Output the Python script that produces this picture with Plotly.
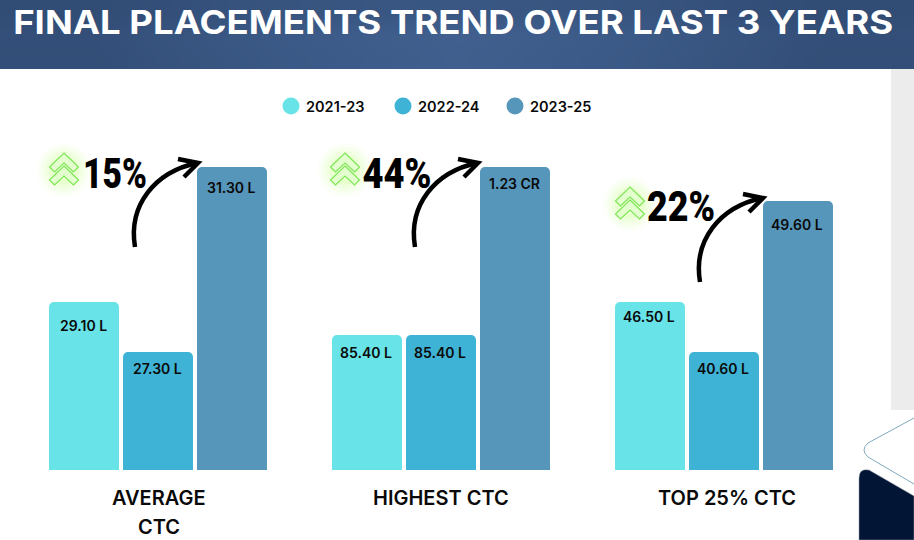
import plotly.graph_objects as go

# ---- data ----
periods = ["2021-23", "2022-24", "2023-25"]
period_colors = ["#68E3E8", "#3FB3D5", "#5696BA"]
group_names = [["AVERAGE", "CTC"], ["HIGHEST CTC"], ["TOP 25% CTC"]]
# bar lengths as drawn (the source graphic is not to a common scale)
average_ctc = [168, 118, 303]
highest_ctc = [135, 135, 303]
top25_ctc = [168, 118, 269]
average_labels = ["29.10 L", "27.30 L", "31.30 L"]
highest_labels = ["85.40 L", "85.40 L", "1.23 CR"]
top25_labels = ["46.50 L", "40.60 L", "49.60 L"]
growth = ["15%", "44%", "22%"]
header_title = "FINAL PLACEMENTS TREND OVER LAST 3 YEARS"

W, H = 914, 540
FONT = "Inter"
fig = go.Figure()

# overlay axis in picture pixels for the decoration
fig.update_layout(
    xaxis4=dict(domain=[0, 1], range=[0, W], visible=False, fixedrange=True, anchor="y4"),
    yaxis4=dict(domain=[0, 1], range=[H, 0], visible=False, fixedrange=True, anchor="x4"),
)

# header gradient
fig.add_trace(go.Heatmap(
    x=[91.4, 274.2, 457, 639.8, 822.6], y=[11.5, 34.5, 57.5],
    z=[[0.1, 0.45, 0.6, 0.45, 0.1], [0.25, 0.7, 1.0, 0.7, 0.25], [0.2, 0.65, 0.95, 0.65, 0.2]],
    zsmooth="best", zmin=0, zmax=1, showscale=False, hoverinfo="skip",
    colorscale=[[0, "#2F4A72"], [1, "#41608F"]], xaxis="x4", yaxis="y4", showlegend=False,
))

shapes = []
def path(d, **kw):
    s = dict(type="path", path=d, xref="x4", yref="y4", layer="above")
    s.update(kw)
    shapes.append(s)

# right-hand decoration
shapes.append(dict(type="rect", xref="x4", yref="y4", x0=891, x1=W, y0=69, y1=410, fillcolor="#ECECEC", line_width=0, layer="below"))
path("M914,418 L868,443 Q860,450 868,457 L914,484", line=dict(color="#7FA9BE", width=1))
path("M859,478 Q859,468 869,470 L914,496 L914,540 L859,540 Z", fillcolor="#021535", line=dict(color="#9A9FA8", width=0.5))

badges = [(64, 170, 115, 173), (345, 170, 396.5, 173), (630, 204, 681, 206)]
arrows = [(0, 0), (280, 0), (565, 35)]

for (cx, cy, tx, ty), pct in zip(badges, growth):
    for r, op in [(27, 0.05), (23, 0.07), (19, 0.10), (15, 0.14)]:
        shapes.append(dict(type="circle", xref="x4", yref="y4", x0=cx - r, x1=cx + r, y0=cy - r, y1=cy + r,
                           fillcolor="#B6FF6A", opacity=op, line_width=0, layer="below"))
    for dy in (-17, -4):
        y0 = cy + dy
        path(f"M{cx},{y0} L{cx+14.5},{y0+14} L{cx+9.5},{y0+19} L{cx},{y0+10} L{cx-9.5},{y0+19} L{cx-14.5},{y0+14} Z",
             fillcolor="rgba(225,255,205,0.75)", line=dict(color="#7FE658", width=1.2))
    fig.add_annotation(x=tx, y=ty, xref="x4", yref="y4", text=pct, showarrow=False, xanchor="center",
                       yanchor="middle", font=dict(family="Roboto", size=42, color="#000000", weight=900))

for dx, dy in arrows:
    path(f"M{135+dx},{247+dy} C{128+dx},{205+dy} {155+dx},{172+dy} {197+dx},{163+dy}",
         line=dict(color="#000000", width=4.5))
    path(f"M{178+dx},{159+dy} L{198+dx},{163+dy} L{184+dx},{177+dy}", line=dict(color="#000000", width=4.5))

# bars: three small panels, each with its own category axis
values = [average_ctc, highest_ctc, top25_ctc]
labels = [average_labels, highest_labels, top25_labels]
panels = [(47, 269), (330, 552), (613, 835)]
label_drop = [[23, 16, 20], [17, 17, 16], [14, 16, 23]]
name_shift = [1, 0, 3]
PLOT_TOP, BASE = 120, 470
for i, (vals, labs, (x0, x1), names) in enumerate(zip(values, labels, panels, group_names)):
    ax = "" if i == 0 else str(i + 1)
    fig.add_trace(go.Bar(x=periods, y=vals, marker=dict(color=period_colors, cornerradius=5, line_width=0),
                         xaxis=f"x{ax}", yaxis=f"y{ax}", showlegend=False, hoverinfo="skip"))
    fig.update_layout({
        f"xaxis{ax}": dict(domain=[x0 / W, x1 / W], visible=False, type="category", fixedrange=True, anchor=f"y{ax}"),
        f"yaxis{ax}": dict(domain=[(H - BASE) / H, (H - PLOT_TOP) / H], range=[0, BASE - PLOT_TOP], visible=False,
                           fixedrange=True, anchor=f"x{ax}"),
    })
    for p, v, lab, drop in zip(periods, vals, labs, label_drop[i]):
        fig.add_annotation(x=p, y=v, xref=f"x{ax}", yref=f"y{ax}", text=lab, showarrow=False, yshift=-drop, xshift=-1,
                           yanchor="middle", font=dict(family=FONT, size=14, color="#0A0A0A", weight=600))
    for k, line in enumerate(names):
        fig.add_annotation(x=(x0 + x1) / 2 + name_shift[i], y=498 + 29 * k, xref="x4", yref="y4", text=line, showarrow=False,
                           yanchor="middle", font=dict(family=FONT, size=20, color="#0A0A0A", weight=600))

# legend, placed by hand so that swatch and text sit as close as in the source
for k, (p, c) in enumerate(zip(periods, period_colors)):
    lx = 291 + 112 * k
    fig.add_trace(go.Scatter(x=[lx], y=[106], mode="markers", name=p, xaxis="x4", yaxis="y4", showlegend=False,
                             hoverinfo="skip", marker=dict(color=c, size=17, symbol="circle", line_width=0)))
    fig.add_annotation(x=lx + 15, y=106, xref="x4", yref="y4", text=p, showarrow=False, xanchor="left", yanchor="middle",
                       xshift=-2, font=dict(family=FONT, size=14.5, color="#0A0A0A", weight=600))

fig.add_annotation(x=453, y=22, xref="x4", yref="y4", text=header_title, showarrow=False, yanchor="middle",
                   font=dict(family=FONT, size=33, color="#FFFFFF", weight=700))

fig.update_layout(
    width=W, height=H, autosize=False, margin=dict(l=0, r=0, t=0, b=0),
    paper_bgcolor="#FFFFFF", plot_bgcolor="rgba(0,0,0,0)", barmode="group", bargap=4 / 74,
    shapes=shapes, showlegend=False,
)
post = """
document.body.style.margin='0';document.body.style.overflow='hidden';
function squeeze(){
  var w={'15%':64,'44%':69,'22%':68,'FINAL PLACEMENTS TREND OVER LAST 3 YEARS':880};
  document.querySelectorAll('.annotation-text').forEach(function(t){
    var n=w[t.textContent];
    if(n){t.setAttribute('textLength',n);t.setAttribute('lengthAdjust','spacingAndGlyphs');}
  });
}
squeeze();setTimeout(squeeze,50);
"""
fig.write_html("out.html", config={"displayModeBar": False}, post_script=post)
